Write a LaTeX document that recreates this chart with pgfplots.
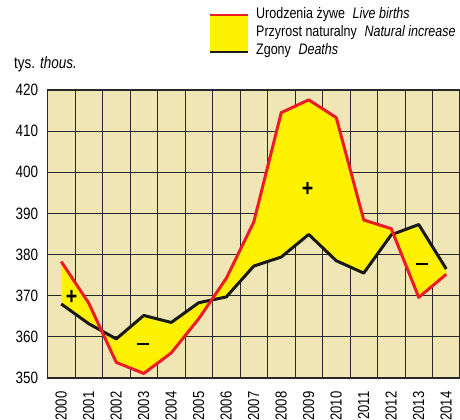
\documentclass[border=0pt]{standalone}
\usepackage{pgfplots}
\pgfplotsset{compat=1.18}
\usepgfplotslibrary{fillbetween}
\usepackage{fontspec}
\setmainfont{Liberation Sans}[FakeStretch=0.82]
\definecolor{bgk}{RGB}{240,229,180}
\definecolor{fy}{RGB}{255,242,0}
\definecolor{lr}{RGB}{237,28,36}
\definecolor{gl}{RGB}{40,40,40}
\pgfplotstableread{
x births deaths
0 378.3 368.0
1 368.2 363.2
2 353.8 359.5
3 351.1 365.2
4 356.1 363.5
5 364.4 368.3
6 374.2 369.7
7 387.9 377.2
8 414.5 379.4
9 417.6 384.9
10 413.3 378.5
11 388.4 375.5
12 386.3 384.8
13 369.6 387.3
14 375.2 376.5
}\data
\begin{document}
\begin{tikzpicture}
\begin{axis}[
  at={(47.5bp,42bp)}, anchor=south west,
  scale only axis, width=412.5bp, height=288bp,
  xmin=-0.5, xmax=14.5, ymin=350, ymax=420,
  axis background/.style={fill=bgk},
  xtick={0,...,14},
  xticklabels={2000,2001,2002,2003,2004,2005,2006,2007,2008,2009,2010,2011,2012,2013,2014},
  x tick label style={rotate=90, anchor=east, font=\fontsize{16}{16}\selectfont},
  minor xtick={-0.5,0.5,...,14.5},
  xminorgrids=true,
  ytick={350,360,...,420},
  ymajorgrids=true,
  y tick label style={font=\fontsize{16.5}{16.5}\selectfont},
  /pgf/number format/assume math mode=true,
  major tick length=0pt, minor tick length=0pt,
  grid style={gl, line width=0.8pt},
  minor grid style={gl, line width=0.8pt},
  axis line style={gl, line width=1.2pt},
  xticklabel shift=10pt,
  yticklabel shift=6pt,
  clip=false,
]
\addplot[draw=none, name path=B, forget plot] table[x=x,y=births]{\data};
\addplot[draw=none, name path=D, forget plot] table[x=x,y=deaths]{\data};
\addplot[fy, draw=none] fill between[of=B and D];
\addplot[black!90, line width=3pt, line join=round] table[x=x,y=deaths]{\data};
\addplot[lr, line width=3pt, line join=round] table[x=x,y=births]{\data};
\node[font=\fontsize{24}{24}\selectfont\bfseries] at (axis cs:0.38,369.6) {+};
\node[inner sep=0pt] at (axis cs:2.98,358.3) {\rule{12bp}{2.4bp}};
\node[font=\fontsize{24}{24}\selectfont\bfseries] at (axis cs:8.96,395.9) {+};
\node[inner sep=0pt] at (axis cs:13.13,377.7) {\rule{12bp}{2.4bp}};
\end{axis}
% legend
\fill[fy] (210bp,368bp) rectangle (248bp,405bp);
\draw[lr, line width=3pt] (210bp,405bp) -- (248bp,405bp);
\draw[black!90, line width=3pt] (210bp,368bp) -- (248bp,368bp);
\begin{scope}[font=\fontsize{15.3}{15.3}\selectfont]
\node[anchor=west, inner sep=0pt] at (256bp,405bp) {Urodzenia żywe\enspace\textit{Live births}};
\node[anchor=west, inner sep=0pt] at (256bp,387bp) {Przyrost naturalny\enspace\textit{Natural increase}};
\node[anchor=west, inner sep=0pt] at (256bp,369bp) {Zgony\enspace\textit{Deaths}};
\node[anchor=west, inner sep=0pt, font=\fontsize{16.5}{16.5}\selectfont] at (14bp,356bp) {tys. \textit{thous.}};
\end{scope}
\pgfresetboundingbox
\path (0,0) rectangle (460bp,420bp);
\end{tikzpicture}
\end{document}
